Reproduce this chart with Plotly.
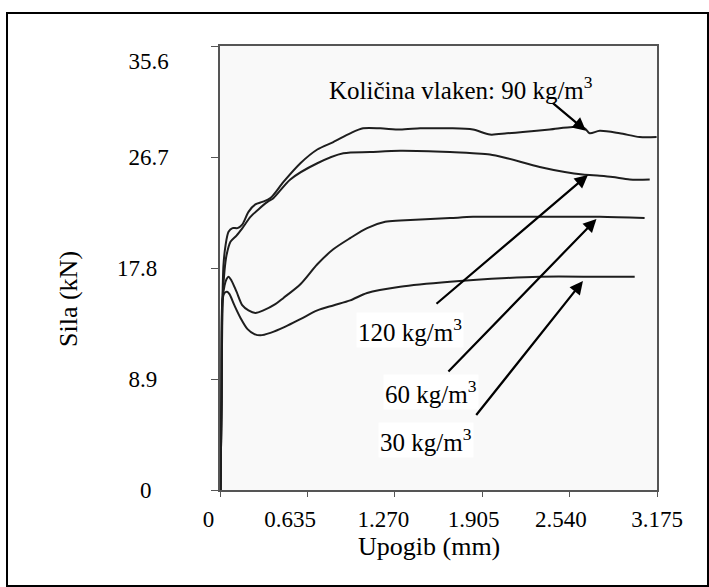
import plotly.graph_objects as go

# ---- data (deflection in mm, force in kN) ----
x90 = [0.004, 0.011, 0.018, 0.025, 0.040, 0.062, 0.091, 0.127, 0.163, 0.207, 0.257, 0.308, 0.366,
       0.461, 0.584, 0.707, 0.823, 0.946, 1.040, 1.164, 1.309, 1.454, 1.548, 1.671, 1.838, 1.961,
       2.084, 2.200, 2.396, 2.563, 2.650, 2.686, 2.759, 2.904, 3.049, 3.172]
y90 = [0.0, 7.2, 15.2, 18.0, 19.6, 20.7, 21.0, 21.0, 21.3, 22.3, 22.9, 23.1, 23.4,
       24.7, 26.2, 27.3, 27.9, 28.6, 29.0, 29.0, 28.9, 29.0, 29.0, 29.0, 28.9, 28.5,
       28.6, 28.7, 28.9, 29.1, 29.0, 28.6, 28.8, 28.6, 28.3, 28.3]

x120 = [0.004, 0.011, 0.018, 0.033, 0.047, 0.076, 0.120, 0.163, 0.221, 0.279, 0.345, 0.388,
        0.511, 0.707, 0.896, 1.091, 1.309, 1.671, 1.838, 1.961, 2.084, 2.323, 2.505, 2.635,
        2.759, 2.853, 2.977, 3.122]
y120 = [0.0, 7.2, 15.2, 17.6, 18.8, 19.9, 20.4, 21.0, 21.9, 22.5, 23.1, 23.4,
        24.9, 26.2, 27.0, 27.1, 27.2, 27.1, 27.0, 26.9, 26.6, 25.9, 25.5, 25.3,
        25.2, 25.1, 24.9, 24.9]

x60 = [0.004, 0.011, 0.018, 0.033, 0.047, 0.062, 0.083, 0.120, 0.163, 0.207, 0.257, 0.315,
       0.402, 0.461, 0.584, 0.707, 0.823, 0.946, 1.069, 1.200, 1.309, 1.671, 1.838, 2.323,
       2.759, 3.085]
y60 = [0.0, 7.2, 15.2, 16.4, 16.9, 17.1, 16.8, 15.9, 14.8, 14.4, 14.2, 14.4,
       14.9, 15.4, 16.5, 18.1, 19.3, 20.2, 21.0, 21.5, 21.6, 21.8, 21.9, 21.9,
       21.9, 21.8]

x30 = [0.004, 0.011, 0.018, 0.033, 0.051, 0.069, 0.105, 0.149, 0.200, 0.250, 0.294, 0.366,
       0.475, 0.584, 0.707, 0.823, 0.946, 1.069, 1.309, 1.671, 2.084, 2.323, 2.759, 3.013]
y30 = [0.0, 7.2, 15.2, 15.8, 15.9, 15.7, 14.8, 13.8, 12.9, 12.5, 12.4, 12.6,
       13.1, 13.7, 14.4, 14.8, 15.2, 15.8, 16.3, 16.7, 17.0, 17.1, 17.1, 17.1]

NB = "\u00a0"
x_ticks = [0, 0.635, 1.270, 1.905, 2.540, 3.175]
x_ticklabels = ["0" + NB * 4, "0.635" + NB * 6, "1.270" + NB * 4, "1.905" + NB * 3, "2.540" + NB * 3, "3.175"]
y_ticks = [0, 8.9, 17.8, 26.7, 35.6]
y_ticklabels = ["0" + NB * 3, "8.9" + NB * 2, "17.8" + NB * 2, "26.7", "<br>35.6"]

labels = ["Količina vlaken: 90 kg/m<sup>3</sup>", "120 kg/m<sup>3</sup>",
          "60 kg/m<sup>3</sup>", "30 kg/m<sup>3</sup>"]
label_x = [1.751, 1.384, 1.533, 1.500]
label_y = [32.2, 12.83, 7.86, 4.01]
arrow_tail_x = [2.410, 1.562, 1.649, 1.853]
arrow_tail_y = [31.1, 14.83, 9.38, 5.89]
arrow_head_x = [2.659, 2.673, 2.735, 2.637]
arrow_head_y = [28.8, 25.26, 21.73, 16.76]

FONT = "Liberation Serif, Times New Roman, serif"
LINE = dict(color="#1e1e1e", width=2)

fig = go.Figure()
for xs, ys, nm in [(x90, y90, "90"), (x120, y120, "120"), (x60, y60, "60"), (x30, y30, "30")]:
    fig.add_trace(go.Scatter(x=xs, y=ys, mode="lines", line=dict(shape="spline", smoothing=0.8, **LINE),
                             name=nm, showlegend=False, hoverinfo="skip"))

annotations = []
for tx, ty, hx, hy in zip(arrow_tail_x, arrow_tail_y, arrow_head_x, arrow_head_y):
    annotations.append(dict(x=hx, y=hy, xref="x", yref="y", ax=tx, ay=ty, axref="x", ayref="y",
                            text="", showarrow=True, arrowhead=2, arrowsize=1.2, arrowwidth=2.2,
                            arrowcolor="black"))
for t, lx, ly, bg in zip(labels, label_x, label_y, [None, "white", "white", "white"]):
    a = dict(x=lx, y=ly, xref="x", yref="y", text=t, showarrow=False,
             font=dict(family=FONT, size=25, color="black"), xanchor="center", yanchor="middle")
    if bg:
        a["bgcolor"] = bg
    annotations.append(a)

annotations.append(dict(x=-0.348, y=0.43, xref="paper", yref="paper", text="Sila (kN)", textangle=-90,
                        showarrow=False, font=dict(family=FONT, size=26, color="black"),
                        xanchor="center", yanchor="middle"))
annotations.append(dict(x=0.478, y=-0.128, xref="paper", yref="paper", text="Upogib (mm)",
                        showarrow=False, font=dict(family=FONT, size=26, color="black"),
                        xanchor="center", yanchor="middle"))

fig.update_layout(
    width=709, height=587,
    margin=dict(l=220, r=52, t=46, b=97),
    paper_bgcolor="white", plot_bgcolor="#f9f9f9",
    annotations=annotations,
    shapes=[dict(type="rect", xref="paper", yref="paper", x0=-0.4874, x1=1.1167, y0=-0.2162, y1=1.0743,
                 line=dict(color="black", width=2), fillcolor="rgba(0,0,0,0)", layer="above")],
)
fig.update_xaxes(range=[0, 3.175], tickvals=x_ticks, ticktext=x_ticklabels, showgrid=False, zeroline=False,
                 showline=True, mirror=True, linecolor="#555", linewidth=1.5, ticks="outside", ticklen=5,
                 tickcolor="#555", tickfont=dict(family=FONT, size=23, color="black"), ticklabelstandoff=3)
fig.update_yaxes(range=[0, 35.6], tickvals=y_ticks, ticktext=y_ticklabels, showgrid=False, zeroline=False,
                 showline=True, mirror=True, linecolor="#555", linewidth=1.5, ticks="outside", ticklen=7,
                 tickcolor="#555", tickfont=dict(family=FONT, size=23, color="black"), ticklabelstandoff=38)

fig.write_html("out.html")
